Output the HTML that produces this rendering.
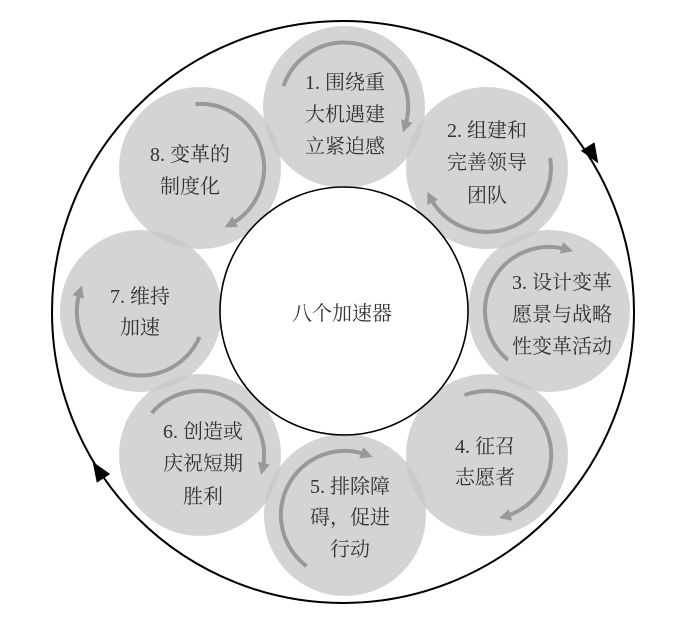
<!DOCTYPE html>
<html><head><meta charset="utf-8"><style>
html,body{margin:0;padding:0;background:#fff;}
svg{display:block;}
text{font-family:"Liberation Serif","Noto Serif CJK SC","Noto Sans CJK SC",serif;font-size:20px;fill:#333;text-anchor:middle;dominant-baseline:central;}
</style></head><body>
<svg width="686" height="622" viewBox="0 0 686 622" xmlns="http://www.w3.org/2000/svg">
<defs>
<marker id="ah" viewBox="0 0 10 10" refX="5" refY="5" markerWidth="14" markerHeight="12" markerUnits="userSpaceOnUse" orient="auto">
<path d="M0,0 L10,5 L0,10 z" fill="#999"/>
</marker>
</defs>
<circle cx="343" cy="312" r="291" fill="none" stroke="#000" stroke-width="2"/>
<polygon points="598.3,163.5 580.9,150.7 594.5,142.3" fill="#000"/>
<polygon points="92.6,461.6 110.2,474 96.8,482.8" fill="#000"/>
<g fill="rgb(200,200,200)" fill-opacity="0.78">
<circle cx="344" cy="107" r="81"/>
<circle cx="487" cy="168" r="81"/>
<circle cx="549" cy="311" r="81"/>
<circle cx="487" cy="455" r="81"/>
<circle cx="345" cy="515" r="81"/>
<circle cx="200" cy="455" r="81"/>
<circle cx="141" cy="311" r="81"/>
<circle cx="200" cy="168" r="81"/>
</g>
<g fill="none" stroke="#999" stroke-width="4" marker-end="url(#ah)">
<path d="M283.5,86.1 A64,64 0 0 1 404.9,126.8"/>
<path d="M550.2,158 A64,64 0 0 1 430,197.1"/>
<path d="M507.9,360 A64,64 0 0 1 567.2,249.6"/>
<path d="M464.5,395.1 A64,64 0 1 1 504.7,516.5"/>
<path d="M306.5,566.1 A64,64 0 0 1 366.9,454.8"/>
<path d="M151.7,413 A64,64 0 0 1 262.5,469"/>
<path d="M199.5,337 A64,64 0 0 1 80.1,291.2"/>
<path d="M195.5,104.1 A64,64 0 0 1 230,224.5"/>
</g>
<circle cx="344" cy="311" r="124" fill="#fff" stroke="#000" stroke-width="1.6"/>
<text x="342" y="314">八个加速器</text>
<text x="345" y="83">1. 围绕重</text><text x="345" y="115">大机遇建</text><text x="345" y="147">立紧迫感</text>
<text x="487" y="131">2. 组建和</text><text x="487" y="163">完善领导</text><text x="487" y="196">团队</text>
<text x="562" y="283">3. 设计变革</text><text x="562" y="315">愿景与战略</text><text x="562" y="347">性变革活动</text>
<text x="485" y="447">4. 征召</text><text x="485" y="478">志愿者</text>
<text x="350" y="487">5. 排除障</text><text x="350" y="518">碍，促进</text><text x="350" y="550">行动</text>
<text x="203" y="432">6. 创造或</text><text x="203" y="464">庆祝短期</text><text x="203" y="497">胜利</text>
<text x="140" y="297">7. 维持</text><text x="140" y="328">加速</text>
<text x="190" y="155">8. 变革的</text><text x="190" y="187">制度化</text>
</svg>
</body></html>
